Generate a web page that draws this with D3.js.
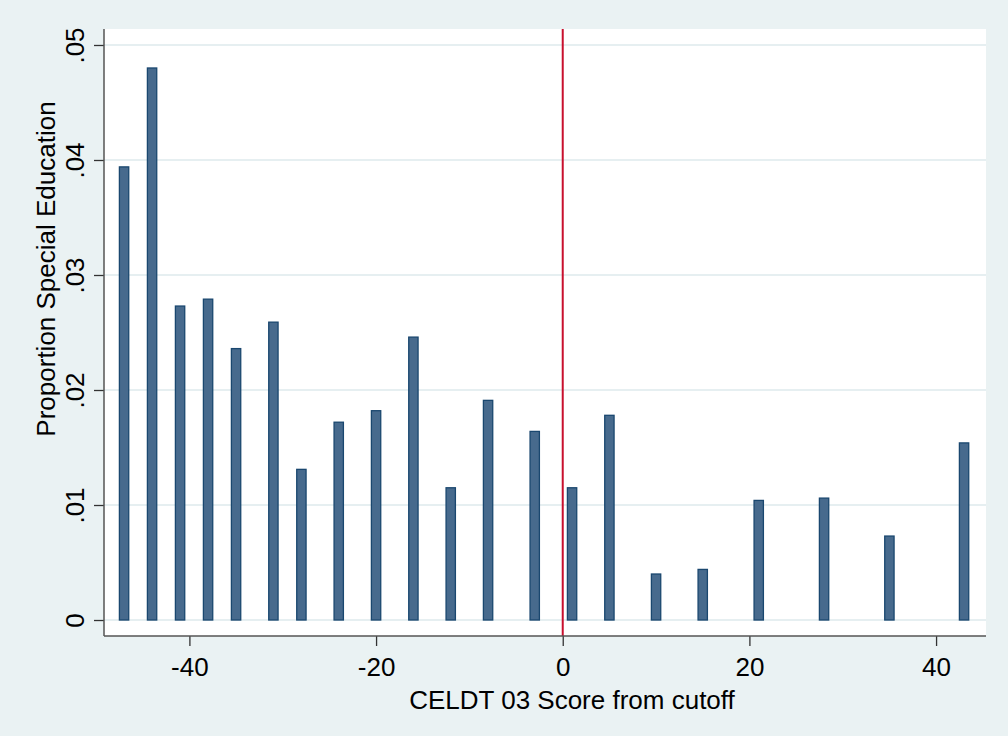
<!DOCTYPE html>
<html>
<head>
<meta charset="utf-8">
<script src="https://cdn.jsdelivr.net/npm/d3@7"></script>
<style>
  html, body { margin: 0; padding: 0; background: #eaf2f3; }
  text { font-family: "Liberation Sans", Arial, sans-serif; fill: #000; }
</style>
</head>
<body>
<div id="chart-area"></div>
<script>
// data
const scores = [-47, -44, -41, -38, -35, -31, -28, -24, -20, -16, -12, -8, -3, 1, 5, 10, 15, 21, 28, 35, 43]
const proportions = [0.0394, 0.0480, 0.0273, 0.0279, 0.0236, 0.0259, 0.0131, 0.0172, 0.0182, 0.0246, 0.0115,
  0.0191, 0.0164, 0.0115, 0.0178, 0.0040, 0.0044, 0.0104, 0.0106, 0.0073, 0.0154]
const xTicks = [-40, -20, 0, 20, 40]
const yTicks = [0, 0.01, 0.02, 0.03, 0.04, 0.05]
const cutoff = 0

const W = 1008, H = 736
const PLOT = { LEFT: 104, RIGHT: 986, TOP: 29, BOTTOM: 636 }

const svg = d3.select("#chart-area").append("svg")
  .attr("width", W)
  .attr("height", H)

svg.append("rect")
  .attr("width", W).attr("height", H)
  .attr("fill", "#eaf2f3")

svg.append("rect")
  .attr("x", PLOT.LEFT).attr("y", PLOT.TOP)
  .attr("width", PLOT.RIGHT - PLOT.LEFT)
  .attr("height", PLOT.BOTTOM - PLOT.TOP)
  .attr("fill", "#fff")

const x = d3.scaleLinear()
  .domain([-49.15, 45.35])
  .range([PLOT.LEFT, PLOT.RIGHT])

const y = d3.scaleLinear()
  .domain([-0.00139, 0.05139])
  .range([PLOT.BOTTOM, PLOT.TOP])

// gridlines
svg.append("g")
  .selectAll("line")
  .data(yTicks)
  .join("line")
    .attr("x1", PLOT.LEFT).attr("x2", PLOT.RIGHT)
    .attr("y1", d => y(d)).attr("y2", d => y(d))
    .attr("stroke", "#e6eff1")
    .attr("stroke-width", 2)

// bars
const data = scores.map((s, i) => ({ score: s, value: proportions[i] }))
const bw = x(1) - x(0)

svg.append("g")
  .selectAll("rect")
  .data(data)
  .join("rect")
    .attr("x", d => x(d.score) - bw / 2)
    .attr("y", d => y(d.value))
    .attr("width", bw)
    .attr("height", d => y(0) - y(d.value))
    .attr("fill", "#476a8d")
    .attr("stroke", "#1a476f")
    .attr("stroke-width", 1.3)

// cutoff line
svg.append("line")
  .attr("x1", x(cutoff)).attr("x2", x(cutoff))
  .attr("y1", PLOT.TOP).attr("y2", PLOT.BOTTOM)
  .attr("stroke", "#c8102e")
  .attr("stroke-width", 2)

// axes
const fmtY = d => d === 0 ? "0" : d3.format(".2f")(d).replace(/^0/, "")

const xAxis = svg.append("g")
  .attr("transform", `translate(0, ${PLOT.BOTTOM})`)
  .call(d3.axisBottom(x).tickValues(xTicks).tickFormat(d => String(d)).tickSize(10).tickPadding(12).tickSizeOuter(0))
xAxis.select(".domain").remove()
xAxis.selectAll(".tick line").attr("stroke", "#333").attr("stroke-width", 1.3)
xAxis.selectAll("text").style("font-size", "26px").attr("fill", "#000")

const yAxis = svg.append("g")
  .attr("transform", `translate(${PLOT.LEFT}, 0)`)
  .call(d3.axisLeft(y).tickValues(yTicks).tickFormat(fmtY).tickSize(10).tickSizeOuter(0))
yAxis.select(".domain").remove()
yAxis.selectAll(".tick line").attr("stroke", "#333").attr("stroke-width", 1.3)
yAxis.selectAll("text")
  .style("font-size", "26px")
  .attr("fill", "#000")
  .attr("x", 0).attr("dy", 0)
  .attr("text-anchor", "middle")
  .attr("transform", "translate(-20, 0) rotate(-90)")

svg.append("line")
  .attr("x1", PLOT.LEFT).attr("x2", PLOT.LEFT)
  .attr("y1", PLOT.TOP).attr("y2", PLOT.BOTTOM)
  .attr("stroke", "#555").attr("stroke-width", 1.5)
svg.append("line")
  .attr("x1", PLOT.LEFT).attr("x2", PLOT.RIGHT)
  .attr("y1", PLOT.BOTTOM).attr("y2", PLOT.BOTTOM)
  .attr("stroke", "#555").attr("stroke-width", 1.5)

// titles
svg.append("text")
  .attr("x", 572)
  .attr("y", 709)
  .attr("text-anchor", "middle")
  .style("font-size", "26px")
  .text("CELDT 03 Score from cutoff")

svg.append("text")
  .attr("transform", "translate(55, 269) rotate(-90)")
  .attr("text-anchor", "middle")
  .style("font-size", "26px")
  .text("Proportion Special Education")
</script>
</body>
</html>
